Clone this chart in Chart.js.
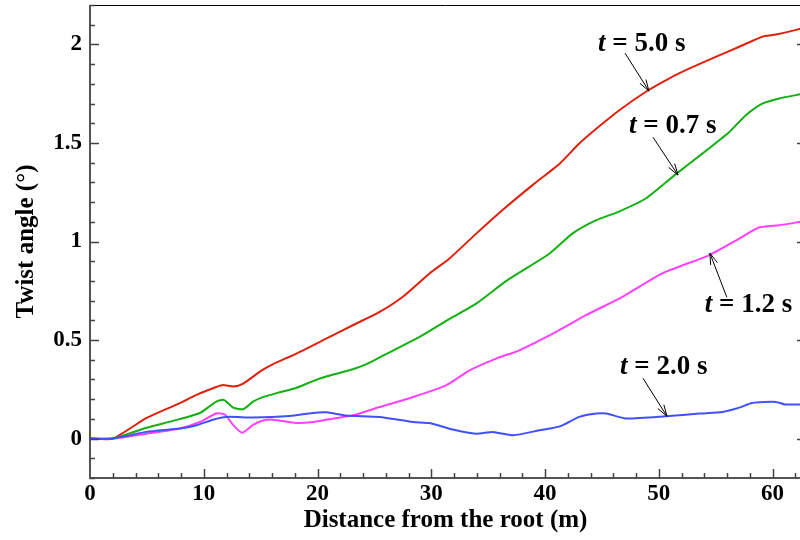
<!DOCTYPE html>
<html>
<head>
<meta charset="utf-8">
<script src="https://cdn.jsdelivr.net/npm/chart.js@4.4.1/dist/chart.umd.min.js"></script>
<style>
  html, body { margin: 0; padding: 0; background: #fff; overflow: hidden; }
</style>
</head>
<body>
<canvas id="twistChart" width="802" height="540"></canvas>
<script>
// === DATA === //
const xMajorTicks = [0, 10, 20, 30, 40, 50, 60];
const yMajorTicks = [0, 0.5, 1, 1.5, 2];

// t = 5.0 s (red)
const t50Dist  = [0, 2, 4.97, 7.9, 9.37, 11.1, 11.7, 12.6, 13.46, 15.07, 16.1, 18.1, 20.8, 23.1, 25.46, 27.5, 29.85, 31.6, 33.95, 36.6, 38.9, 41.3, 43.0, 44.5, 46.5, 49.0, 50.9, 52.7, 55.0, 57.07, 59.1, 60.3, 62.5];
const t50Twist = [0, 0, 0.105, 0.18, 0.222, 0.262, 0.272, 0.264, 0.279, 0.345, 0.378, 0.43, 0.508, 0.575, 0.643, 0.72, 0.838, 0.914, 1.04, 1.176, 1.286, 1.396, 1.497, 1.572, 1.665, 1.765, 1.827, 1.878, 1.937, 1.988, 2.039, 2.05, 2.08];

// t = 0.7 s (green)
const t07Dist  = [0, 2, 4.97, 7.3, 9.66, 11.1, 11.76, 12.6, 13.46, 14.3, 15.07, 16.68, 18.1, 20.2, 23.1, 24.3, 25.46, 28.97, 31.9, 33.95, 36.6, 40.4, 42.4, 44.5, 46.5, 48.85, 51.5, 53.85, 56.2, 57.65, 59.1, 60.6, 62.5];
const t07Twist = [0, 0, 0.055, 0.09, 0.13, 0.188, 0.196, 0.157, 0.149, 0.186, 0.208, 0.235, 0.257, 0.305, 0.352, 0.378, 0.412, 0.516, 0.617, 0.685, 0.8, 0.939, 1.04, 1.108, 1.152, 1.218, 1.342, 1.447, 1.556, 1.641, 1.70, 1.726, 1.748];

// t = 1.2 s (magenta)
const t12Dist  = [0, 2, 4.97, 7.9, 9.66, 11.1, 11.85, 12.6, 13.37, 14.3, 15.07, 16.1, 18.1, 19.6, 21.4, 23.1, 25.46, 28.4, 31.3, 33.4, 35.7, 37.75, 40.97, 43.6, 46.8, 50.3, 54.4, 57.07, 58.8, 60.6, 62.5];
const t12Twist = [0, 0, 0.025, 0.051, 0.084, 0.127, 0.122, 0.068, 0.03, 0.068, 0.089, 0.096, 0.079, 0.084, 0.102, 0.118, 0.16, 0.211, 0.27, 0.347, 0.406, 0.448, 0.541, 0.626, 0.719, 0.838, 0.93, 1.015, 1.071, 1.083, 1.1];

// t = 2.0 s (blue)
const t20Dist  = [0, 2, 4.97, 7.9, 9.37, 10.8, 11.99, 14.3, 17.56, 19.6, 20.8, 22.5, 25.46, 28.4, 29.85, 31.9, 33.95, 35.4, 37.2, 39.5, 41.3, 43.0, 44.5, 45.4, 47.1, 50.6, 53.6, 55.6, 57.07, 58.2, 60.3, 61.1, 62.5];
const t20Twist = [0, 0, 0.034, 0.051, 0.068, 0.096, 0.11, 0.107, 0.115, 0.13, 0.133, 0.117, 0.11, 0.084, 0.079, 0.046, 0.025, 0.034, 0.017, 0.042, 0.062, 0.11, 0.127, 0.127, 0.102, 0.113, 0.127, 0.135, 0.157, 0.181, 0.186, 0.173, 0.173];

// labels: time value, text left/middle point, arrow tail, arrow tip (data units)
const annTimes = ['5.0', '0.7', '1.2', '2.0'];
const annText  = [[44.66, 2.0], [47.38, 1.585], [54.05, 0.677], [46.59, 0.362]];
const annTail  = [[47.03, 1.956], [49.49, 1.529], [55.98, 0.717], [48.61, 0.306]];
const annTip   = [[49.14, 1.763], [51.69, 1.337], [54.49, 0.941], [50.72, 0.113]];

const serif = '"Liberation Serif", "Times New Roman", serif';

const toPoints = (xs, ys) => xs.map((x, i) => ({ x: x, y: ys[i] }));

const series = (label, xs, ys, color) => ({
  label: label,
  data: toPoints(xs, ys),
  borderColor: color,
  borderWidth: 2,
  pointRadius: 0,
  tension: 0.2,
  fill: false,
});

/// === FRAME, TICKS, LABELS === ///
const framePlugin = {
  id: 'frame',
  afterDraw(chart) {
    const { ctx, chartArea: a, scales: { x, y } } = chart;
    ctx.save();

    // axis lines
    ctx.strokeStyle = '#555';
    ctx.lineWidth = 2;
    ctx.beginPath();
    ctx.moveTo(a.left, a.top);
    ctx.lineTo(a.left, a.bottom);
    ctx.lineTo(a.right, a.bottom);
    ctx.stroke();
    ctx.strokeStyle = '#000';
    ctx.lineWidth = 1;
    ctx.beginPath();
    ctx.moveTo(a.left, a.top + 0.5);
    ctx.lineTo(a.right, a.top + 0.5);
    ctx.stroke();

    // inward ticks
    ctx.strokeStyle = '#444';
    ctx.lineWidth = 1.5;
    ctx.beginPath();
    for (let v = -0.2; v <= 2.2001; v += 0.1) {
      const py = Math.round(y.getPixelForValue(v)) + 0.5;
      const major = yMajorTicks.some((m) => Math.abs(m - v) < 1e-6);
      ctx.moveTo(a.left, py);
      ctx.lineTo(a.left + (major ? 9 : 5), py);
      if (major) {
        ctx.moveTo(a.right, py);
        ctx.lineTo(a.right - 4, py);
      }
    }
    for (let v = 2; v <= 62.5; v += 2) {
      const px = Math.round(x.getPixelForValue(v)) + 0.5;
      const major = xMajorTicks.includes(v);
      ctx.moveTo(px, a.bottom);
      ctx.lineTo(px, a.bottom - (major ? 9 : 5));
    }
    ctx.stroke();

    // curve labels
    const big = 27;
    ctx.fillStyle = '#000';
    ctx.textBaseline = 'middle';
    ctx.textAlign = 'left';
    annTimes.forEach((t, i) => {
      const tx = x.getPixelForValue(annText[i][0]);
      const ty = y.getPixelForValue(annText[i][1]);
      ctx.font = `italic bold ${big}px ${serif}`;
      ctx.fillText('t', tx, ty);
      const w = ctx.measureText('t').width;
      ctx.font = `bold ${big}px ${serif}`;
      ctx.fillText(` = ${t} s`, tx + w, ty);

      const x0 = x.getPixelForValue(annTail[i][0]);
      const y0 = y.getPixelForValue(annTail[i][1]);
      const x1 = x.getPixelForValue(annTip[i][0]);
      const y1 = y.getPixelForValue(annTip[i][1]);
      const ang = Math.atan2(y1 - y0, x1 - x0);
      const head = 12, spread = 0.3;
      ctx.strokeStyle = '#000';
      ctx.lineWidth = 1;
      ctx.beginPath();
      ctx.moveTo(x0, y0);
      ctx.lineTo(x1, y1);
      ctx.moveTo(x1 - head * Math.cos(ang - spread), y1 - head * Math.sin(ang - spread));
      ctx.lineTo(x1, y1);
      ctx.lineTo(x1 - head * Math.cos(ang + spread), y1 - head * Math.sin(ang + spread));
      ctx.stroke();
    });
    ctx.restore();
  },
};

new Chart(document.getElementById('twistChart'), {
  type: 'line',
  data: {
    datasets: [
      series('t = 2.0 s', t20Dist, t20Twist, '#4050ff'),
      series('t = 0.7 s', t07Dist, t07Twist, '#12b012'),
      series('t = 5.0 s', t50Dist, t50Twist, '#e0200c'),
      series('t = 1.2 s', t12Dist, t12Twist, '#ff40ff'),
    ],
  },
  options: {
    responsive: false,
    animation: false,
    layout: { padding: { top: 5, right: 1, left: 0, bottom: 0 } },
    plugins: { legend: { display: false }, tooltip: { enabled: false } },
    scales: {
      x: {
        type: 'linear',
        min: 0,
        max: 62.5,
        afterFit: (s) => { s.height = 62; s.paddingLeft = 0; s.paddingRight = 0; },
        afterBuildTicks: (s) => { s.ticks = xMajorTicks.map((v) => ({ value: v })); },
        grid: { display: false, drawTicks: false },
        border: { display: false },
        ticks: {
          color: '#000',
          padding: 2,
          maxRotation: 0,
          autoSkip: false,
          font: { family: serif, size: 23, weight: 'bold' },
          callback: (v) => String(v),
        },
        title: {
          display: true,
          text: 'Distance from the root (m)',
          color: '#000',
          padding: { top: 0, bottom: 4 },
          font: { family: serif, size: 25, weight: 'bold' },
        },
      },
      y: {
        min: -0.2,
        max: 2.2,
        afterFit: (s) => { s.width = 90; s.paddingTop = 0; s.paddingBottom = 0; },
        afterBuildTicks: (s) => { s.ticks = yMajorTicks.map((v) => ({ value: v })); },
        grid: { display: false, drawTicks: false },
        border: { display: false },
        ticks: {
          color: '#000',
          padding: 8,
          font: { family: serif, size: 23, weight: 'bold' },
          callback: (v) => String(v),
        },
        title: {
          display: true,
          text: 'Twist angle (°)',
          color: '#000',
          padding: { top: 12, bottom: 0 },
          font: { family: serif, size: 25, weight: 'bold' },
        },
      },
    },
  },
  plugins: [framePlugin],
});
</script>
</body>
</html>
